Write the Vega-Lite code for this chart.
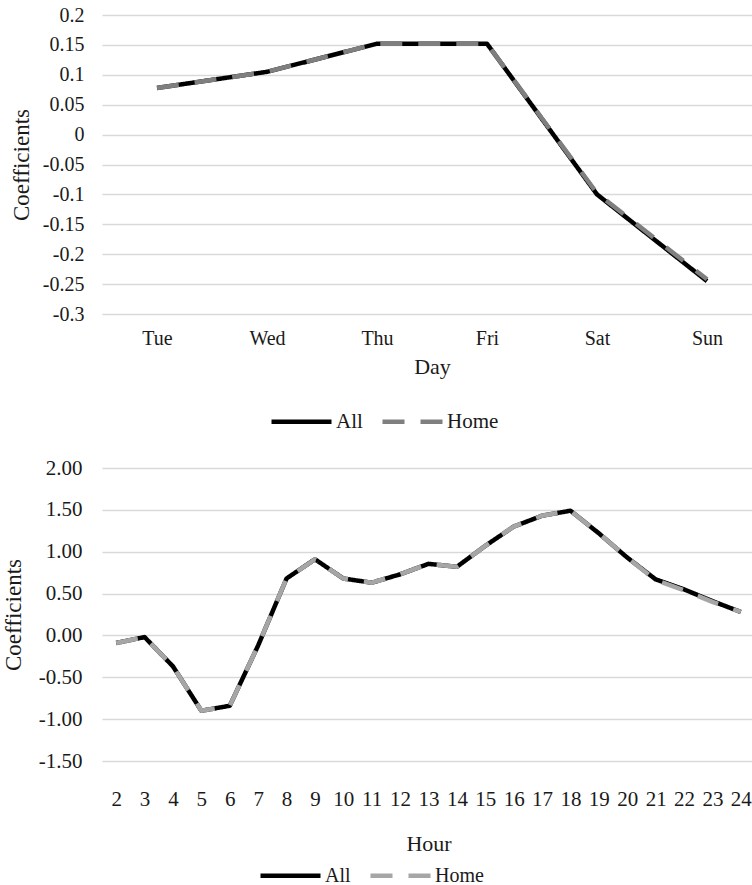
{
  "$schema": "https://vega.github.io/schema/vega-lite/v6.json",
  "padding": {"left": 2, "top": 5, "right": 0, "bottom": 0},
  "spacing": 25,
  "align": "none",
  "config": {
    "font": "Liberation Serif",
    "view": {"stroke": null},
    "locale": {"number": {"decimal": ".", "thousands": ",", "grouping": [3], "currency": ["$", ""], "minus": "-"}},
    "axis": {"domain": false, "ticks": false, "gridColor": "#d9d9d9", "gridWidth": 1.5, "labelColor": "#1a1a1a", "titleColor": "#1a1a1a", "titleFontWeight": "normal", "labelFont": "Liberation Serif", "titleFont": "Liberation Serif"}
  },
  "resolve": {"scale": {"color": "independent", "strokeDash": "independent", "x": "independent", "y": "independent"}, "legend": {"color": "independent", "strokeDash": "independent"}},
  "vconcat": [
    {
      "width": 660,
      "height": 299,
      "data": {"values": [
        {"day": "Tue", "series": "All", "value": 0.078},
        {"day": "Wed", "series": "All", "value": 0.105},
        {"day": "Thu", "series": "All", "value": 0.152},
        {"day": "Fri", "series": "All", "value": 0.152},
        {"day": "Sat", "series": "All", "value": -0.1},
        {"day": "Sun", "series": "All", "value": -0.245},
        {"day": "Tue", "series": "Home", "value": 0.078},
        {"day": "Wed", "series": "Home", "value": 0.105},
        {"day": "Thu", "series": "Home", "value": 0.152},
        {"day": "Fri", "series": "Home", "value": 0.152},
        {"day": "Sat", "series": "Home", "value": -0.098},
        {"day": "Sun", "series": "Home", "value": -0.242}
      ]},
      "mark": {"type": "line", "strokeWidth": 4.5, "strokeJoin": "round"},
      "encoding": {
        "x": {"field": "day", "type": "ordinal", "sort": ["Tue", "Wed", "Thu", "Fri", "Sat", "Sun"],
          "scale": {"type": "point", "padding": 0.5},
          "axis": {"labelAngle": 0, "grid": false, "labelFontSize": 20, "labelPadding": 14, "title": "Day", "titleFontSize": 22, "titlePadding": 8}},
        "y": {"field": "value", "type": "quantitative",
          "scale": {"domain": [-0.3, 0.2], "nice": false, "zero": false},
          "axis": {"values": [-0.3, -0.25, -0.2, -0.15, -0.1, -0.05, 0, 0.05, 0.1, 0.15, 0.2], "format": "~g", "labelFontSize": 20, "labelPadding": 18, "title": "Coefficients", "titleFontSize": 23, "titlePadding": 9}},
        "color": {"field": "series", "type": "nominal",
          "scale": {"domain": ["All", "Home"], "range": ["#000000", "#7f7f7f"]},
          "legend": {"title": null, "orient": "none", "legendX": 167, "legendY": 374, "direction": "horizontal", "symbolType": "stroke", "symbolSize": 3600, "symbolStrokeWidth": 4.5, "labelFontSize": 21, "labelFont": "Liberation Serif", "labelColor": "#1a1a1a", "columnPadding": 10, "labelOffset": 2}},
        "strokeDash": {"field": "series", "type": "nominal",
          "scale": {"domain": ["All", "Home"], "range": [[1, 0], [22, 16]]},
          "legend": {"title": null, "orient": "none", "legendX": 167, "legendY": 374, "direction": "horizontal", "symbolType": "stroke", "symbolSize": 3600, "symbolStrokeWidth": 4.5, "labelFontSize": 21, "labelFont": "Liberation Serif", "labelColor": "#1a1a1a", "columnPadding": 10, "labelOffset": 2}}
      }
    },
    {
      "width": 653,
      "height": 293,
      "data": {"values": [
        {"hour": 2, "series": "All", "value": -0.09},
        {"hour": 3, "series": "All", "value": -0.02},
        {"hour": 4, "series": "All", "value": -0.37},
        {"hour": 5, "series": "All", "value": -0.9},
        {"hour": 6, "series": "All", "value": -0.84},
        {"hour": 7, "series": "All", "value": -0.12},
        {"hour": 8, "series": "All", "value": 0.68},
        {"hour": 9, "series": "All", "value": 0.91},
        {"hour": 10, "series": "All", "value": 0.68},
        {"hour": 11, "series": "All", "value": 0.63},
        {"hour": 12, "series": "All", "value": 0.73},
        {"hour": 13, "series": "All", "value": 0.855},
        {"hour": 14, "series": "All", "value": 0.82},
        {"hour": 15, "series": "All", "value": 1.07},
        {"hour": 16, "series": "All", "value": 1.3},
        {"hour": 17, "series": "All", "value": 1.43},
        {"hour": 18, "series": "All", "value": 1.49},
        {"hour": 19, "series": "All", "value": 1.22},
        {"hour": 20, "series": "All", "value": 0.93},
        {"hour": 21, "series": "All", "value": 0.67},
        {"hour": 22, "series": "All", "value": 0.55},
        {"hour": 23, "series": "All", "value": 0.41},
        {"hour": 24, "series": "All", "value": 0.28},
        {"hour": 2, "series": "Home", "value": -0.09},
        {"hour": 3, "series": "Home", "value": -0.02},
        {"hour": 4, "series": "Home", "value": -0.37},
        {"hour": 5, "series": "Home", "value": -0.9},
        {"hour": 6, "series": "Home", "value": -0.84},
        {"hour": 7, "series": "Home", "value": -0.12},
        {"hour": 8, "series": "Home", "value": 0.68},
        {"hour": 9, "series": "Home", "value": 0.91},
        {"hour": 10, "series": "Home", "value": 0.68},
        {"hour": 11, "series": "Home", "value": 0.63},
        {"hour": 12, "series": "Home", "value": 0.73},
        {"hour": 13, "series": "Home", "value": 0.855},
        {"hour": 14, "series": "Home", "value": 0.82},
        {"hour": 15, "series": "Home", "value": 1.07},
        {"hour": 16, "series": "Home", "value": 1.3},
        {"hour": 17, "series": "Home", "value": 1.43},
        {"hour": 18, "series": "Home", "value": 1.49},
        {"hour": 19, "series": "Home", "value": 1.22},
        {"hour": 20, "series": "Home", "value": 0.93},
        {"hour": 21, "series": "Home", "value": 0.66},
        {"hour": 22, "series": "Home", "value": 0.54},
        {"hour": 23, "series": "Home", "value": 0.4},
        {"hour": 24, "series": "Home", "value": 0.28}
      ]},
      "mark": {"type": "line", "strokeWidth": 4.5, "strokeJoin": "round"},
      "encoding": {
        "x": {"field": "hour", "type": "ordinal",
          "scale": {"type": "point", "padding": 0.5},
          "axis": {"labelAngle": 0, "grid": false, "labelFontSize": 21, "labelPadding": 27, "title": "Hour", "titleFontSize": 22, "titlePadding": 24}},
        "y": {"field": "value", "type": "quantitative",
          "scale": {"domain": [-1.5, 2], "nice": false, "zero": false},
          "axis": {"values": [-1.5, -1, -0.5, 0, 0.5, 1, 1.5, 2], "format": ".2f", "labelFontSize": 21, "labelPadding": 20, "title": "Coefficients", "titleFontSize": 23, "titlePadding": 13}},
        "color": {"field": "series", "type": "nominal",
          "scale": {"domain": ["All", "Home"], "range": ["#000000", "#a6a6a6"]},
          "legend": {"title": null, "orient": "none", "legendX": 156, "legendY": 375, "direction": "horizontal", "symbolType": "stroke", "symbolSize": 3600, "symbolStrokeWidth": 4.5, "labelFontSize": 20, "labelFont": "Liberation Serif", "labelColor": "#1a1a1a", "columnPadding": 10, "labelOffset": 2}},
        "strokeDash": {"field": "series", "type": "nominal",
          "scale": {"domain": ["All", "Home"], "range": [[1, 0], [22, 16]]},
          "legend": {"title": null, "orient": "none", "legendX": 156, "legendY": 375, "direction": "horizontal", "symbolType": "stroke", "symbolSize": 3600, "symbolStrokeWidth": 4.5, "labelFontSize": 20, "labelFont": "Liberation Serif", "labelColor": "#1a1a1a", "columnPadding": 10, "labelOffset": 2}}
      }
    }
  ]
}
